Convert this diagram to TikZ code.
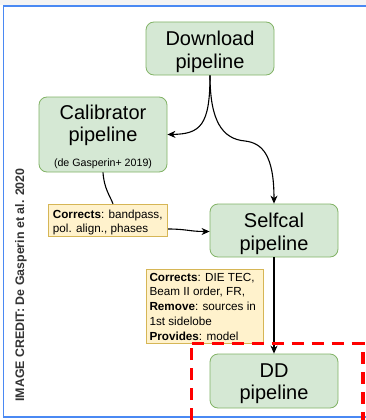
\documentclass[tikz,border=0pt]{standalone}
\usepackage{fontspec}
\setmainfont{Liberation Sans}
\usetikzlibrary{arrows.meta,calc}
\definecolor{gfill}{HTML}{D5E8D4}
\definecolor{gdraw}{HTML}{82B366}
\definecolor{yfill}{HTML}{FFF2CC}
\definecolor{ydraw}{HTML}{D6B656}
\definecolor{frameblue}{HTML}{4A89F3}
\definecolor{topgray}{HTML}{F4F4F4}
\definecolor{credit}{HTML}{333333}
\tikzset{
  gbox/.style={draw=gdraw, fill=gfill, line width=0.8pt, rounded corners=8pt, inner sep=0pt, minimum width=128pt},
  ybox/.style={draw=ydraw, fill=yfill, line width=0.8pt, inner sep=0pt},
  bigtxt/.style={anchor=base, inner sep=0pt, font=\fontsize{20}{22}\selectfont},
  smalltxt/.style={anchor=base west, inner sep=0pt, font=\fontsize{11.7}{15}\selectfont},
  reftxt/.style={anchor=base, inner sep=0pt, font=\fontsize{10.65}{12}\selectfont},
  conn/.style={line width=1.1pt, black},
  arr/.style={conn, -{Stealth[length=8pt,width=7pt,inset=2.5pt]}},
}
\begin{document}
\begin{tikzpicture}[x=1pt,y=-1pt]
\useasboundingbox (0,0) rectangle (366,420);
\fill[white] (0,0) rectangle (366,420);
\fill[topgray] (0,0) rectangle (366,5);
\begin{scope}
\clip (0,0) rectangle (366,420);
\draw[frameblue, line width=1.8pt] (3.5,6) rectangle (380,417);
\end{scope}

% green boxes
\node[gbox, minimum height=53pt] (dl) at (210,48.5) {};
\node[gbox, minimum height=75pt] (cal) at (103,134.5) {};
\node[gbox, minimum height=53pt] (sc) at (274,230.5) {};
\node[gbox, minimum height=54pt] (dd) at (274,381) {};

\node[bigtxt] (dla) at (210,45.7) {Download};
\node[bigtxt] (dlb) at (210,68) {pipeline};
\node[bigtxt] (cala) at (103,119) {Calibrator};
\node[bigtxt] (calb) at (103,141) {pipeline};
\node[reftxt] (calc) at (103,166.7) {(de Gasperin+ 2019)};
\node[bigtxt] (sca) at (274,227.3) {Selfcal};
\node[bigtxt] (scb) at (274,250) {pipeline};
\node[bigtxt] (dda) at (274,377.3) {DD};
\node[bigtxt] (ddb) at (274,399.3) {pipeline};

% yellow boxes
\node[ybox, minimum width=119.5pt, minimum height=32.5pt] (c1) at (108,220.5) {};
\node[smalltxt] (c1a) at (52.7,218.3) {\textbf{Corrects}: bandpass,};
\node[smalltxt] (c1b) at (52.7,232.3) {pol. align., phases};

\node[ybox, minimum width=117pt, minimum height=74.5pt] (c2) at (204.5,306.2) {};
\node[smalltxt] (c2a) at (149.3,281) {\textbf{Corrects}: DIE TEC,};
\node[smalltxt] (c2b) at (149.3,295.9) {Beam II order, FR,};
\node[smalltxt] (c2c) at (149.3,310.8) {\textbf{Remove}: sources in};
\node[smalltxt] (c2d) at (149.3,325.7) {1st sidelobe};
\node[smalltxt] (c2e) at (149.3,340.6) {\textbf{Provides}: model};

% connectors
\draw[arr] (dl.south) .. controls ($(dl.south)+(0,50)$) and ($(cal.east)+(33,-0.5)$) .. (cal.east);
\draw[arr] (dl.south) .. controls ($(dl.south)+(0,45)$) and (222,139) .. (245,141)
  .. controls (262,143) and ($(sc.north)+(0,-49)$) .. (sc.north);
\draw[conn] (cal.south) .. controls ($(cal.south)+(1,16)$) and ($(c1.north)+(2,-8)$) .. ([xshift=5pt]c1.north);
\draw[arr] ($(c1.east)+(0,8.5)$) .. controls ($(c1.east)+(18,8.5)$) and ($(sc.west)+(-20,1)$) .. ($(sc.west)+(0,1)$);
\draw[arr] (sc.south) -- (dd.north);

% credit
\node[rotate=90, anchor=base, inner sep=0pt, text=credit, font=\fontsize{12.4}{14}\selectfont\bfseries] (credit) at (24,285) {IMAGE CREDIT: De Gasperin et al. 2020};

% red dashed region
\begin{scope}
\clip (0,0) rectangle (366,420);
\draw[red, line width=3.5pt, dash pattern=on 12pt off 8pt] (191.5,343.5) -- (363,343.5) -- (363,440);
\draw[red, line width=3.5pt, dash pattern=on 12pt off 8pt] (191.5,440) -- (191.5,343.5);
\end{scope}
\end{tikzpicture}
\end{document}
